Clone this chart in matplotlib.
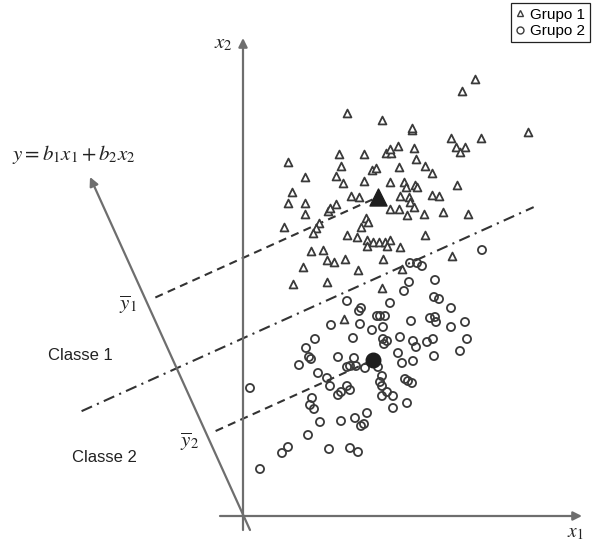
"""
Diagrama de análise discriminante linear: dois grupos projetados
sobre o eixo y = b1*x1 + b2*x2.
"""
import matplotlib
matplotlib.use("Agg")
import matplotlib.pyplot as plt
import numpy as np
from matplotlib.lines import Line2D

plt.rcParams["mathtext.fontset"] = "stix"
plt.rcParams["font.family"] = ["Liberation Sans", "DejaVu Sans"]

# --- dados (x1, x2), origem no cruzamento dos eixos ---
grupo1_x1 = [232, 219, 104, 139, 169, 285, 208, 238, 213, 222, 217, 96, 121, 143,
             148, 147, 155, 171, 45, 173, 98, 129, 133, 156, 182, 189, 62, 93, 121,
             100, 147, 161, 163, 172, 174, 214, 49, 108, 116, 157, 166, 167, 171,
             189, 196, 45, 62, 85, 87, 93, 62, 147, 156, 164, 181, 200, 225, 41, 76,
             73, 123, 125, 118, 70, 104, 114, 124, 130, 136, 142, 147, 182, 68, 80,
             124, 144, 157, 209, 84, 91, 102, 140, 60, 115, 159, 50, 84, 139, 101, 169]
grupo1_x2 = [437, 425, 403, 396, 386, 384, 378, 378, 369, 369, 364, 362, 362, 363,
             363, 367, 370, 368, 354, 357, 350, 346, 348, 349, 350, 343, 339, 340, 335,
             333, 334, 334, 329, 331, 329, 331, 324, 320, 319, 320, 319, 314, 309,
             321, 320, 313, 313, 305, 308, 312, 302, 307, 307, 301, 302, 304, 302, 289, 293,
             288, 298, 294, 289, 283, 281, 279, 276, 274, 274, 274, 276, 281, 265, 266,
             270, 270, 269, 260, 256, 254, 257, 257, 249, 246, 247, 232, 234, 228, 197, 388]

grupo2_x1 = [239, 167, 174, 179, 166, 192, 161, 104, 147, 191, 196, 116, 118, 134,
             137, 142, 208, 88, 117, 129, 140, 168, 187, 192, 193, 222, 208, 72, 110,
             140, 144, 141, 157, 170, 173, 184, 190, 224, 217, 191, 155, 159, 170, 63,
             66, 68, 56, 95, 111, 104, 107, 113, 122, 135, 7, 75, 84, 87, 139, 137, 139,
             139, 144, 150, 162, 165, 169, 150, 164, 104, 107, 95, 98, 69, 67, 71, 124,
             77, 98, 112, 118, 121, 65, 45, 39, 86, 107, 115, 17]
grupo2_x2 = [266, 253, 253, 250, 234, 236, 225, 215, 213, 219, 217, 205, 208, 200,
             200, 200, 208, 191, 192, 186, 189, 195, 198, 199, 194, 194, 189, 177, 178,
             177, 175, 172, 179, 175, 169, 174, 177, 177, 165, 160, 163, 153, 155, 168,
             159, 157, 151, 159, 158, 149, 150, 150, 148, 149, 128, 143, 138, 130, 140, 134, 130,
             120, 124, 120, 137, 135, 133, 108, 113, 130, 126, 121, 124, 118, 111, 107, 103,
             94, 95, 98, 90, 92, 81, 69, 63, 67, 68, 64, 47]

media1 = (135, 319)
media2 = (130, 156)

# eixo da função discriminante (ponta da seta)
eixo_y_ponta = (-153, 339)

COR_EIXO = "#6e6e6e"
COR_LINHA = "#333333"


def ponto_no_eixo(ponto, w):
    t = np.dot(ponto, w)
    return t, t * w


def main():
    fig = plt.figure(figsize=(5.92, 5.44), dpi=100)
    ax = fig.add_axes([0, 0, 1, 1])
    ax.set_xlim(-243, 349)
    ax.set_ylim(-28, 516)
    ax.axis("off")

    seta = dict(arrowstyle="-|>", color=COR_EIXO, lw=1.6, mutation_scale=13,
                shrinkA=0, shrinkB=0)
    # eixos x1 e x2
    ax.annotate("", xy=(339, 0), xytext=(-23, 0), arrowprops=seta)
    ax.annotate("", xy=(0, 478), xytext=(0, -14), arrowprops=seta)
    # eixo y = b1 x1 + b2 x2
    ax.annotate("", xy=eixo_y_ponta, xytext=(7, -14), arrowprops=seta)

    w = np.array(eixo_y_ponta, dtype=float)
    w /= np.linalg.norm(w)
    p = np.array([w[1], -w[0]])  # perpendicular, para a direita

    t1, pe1 = ponto_no_eixo(np.array(media1), w)
    t2, pe2 = ponto_no_eixo(np.array(media2), w)
    for media, pe in [(media1, pe1), (media2, pe2)]:
        ini = pe + 10 * p
        ax.plot([ini[0], media[0]], [ini[1], media[1]], color=COR_LINHA, lw=1.5,
                linestyle=(0, (3.9, 2.6)), zorder=2)

    meio = (t1 + t2) / 2 * w
    a = meio - 104 * p
    b = meio + 392 * p
    ax.plot([a[0], b[0]], [a[1], b[1]], color=COR_LINHA, lw=1.5,
            linestyle=(0, (5.5, 2.6, 1.0, 2.6)), zorder=2)

    ax.scatter(grupo1_x1, grupo1_x2, marker="^", s=32, facecolor="white",
               edgecolor="#3a3a3a", linewidth=1.3, zorder=3)
    ax.scatter(grupo2_x1, grupo2_x2, marker="o", s=34, facecolor="none",
               edgecolor="#3a3a3a", linewidth=1.3, zorder=3)
    ax.scatter(*media1, marker="^", s=150, color="#1e1e1e", zorder=4)
    ax.scatter(*media2, marker="o", s=110, color="#1e1e1e", zorder=4)

    # textos
    ax.text(-231, 361, r"$y = b_1 x_1 + b_2 x_2$", fontsize=15, ha="left",
            va="center", color="#222222")
    ax.text(-115, 211, r"$\overline{y}_1$", fontsize=15, ha="center",
            va="center", color="#222222")
    ax.text(-53, 74, r"$\overline{y}_2$", fontsize=15, ha="center",
            va="center", color="#222222")
    ax.text(-195, 161, "Classe 1", fontsize=12, ha="left", va="center",
            color="#222222")
    ax.text(-171, 59, "Classe 2", fontsize=12, ha="left", va="center",
            color="#222222")
    ax.text(-20, 473, r"$x_2$", fontsize=15, ha="center", va="center",
            color="#222222")
    ax.text(332, -17, r"$x_1$", fontsize=14, ha="center", va="center",
            color="#222222")

    handles = [
        Line2D([], [], marker="^", ls="none", markersize=5, markerfacecolor="white",
               markeredgecolor="#3c3c3c", markeredgewidth=1.0, label="Grupo 1"),
        Line2D([], [], marker="o", ls="none", markersize=5, markerfacecolor="white",
               markeredgecolor="#3c3c3c", markeredgewidth=1.0, label="Grupo 2"),
    ]
    leg = ax.legend(handles=handles, loc="upper right",
                    bbox_to_anchor=(590 / 592, 1 - 3 / 544),
                    bbox_transform=fig.transFigure, fontsize=11, frameon=True,
                    fancybox=False, framealpha=1, edgecolor="#222222",
                    handlelength=0.7, handletextpad=0.3, borderpad=0.3,
                    labelspacing=0.15, borderaxespad=0)
    leg.get_frame().set_linewidth(0.9)

    fig.savefig("out.png", dpi=100, facecolor="white")
    plt.close(fig)


if __name__ == "__main__":
    main()
